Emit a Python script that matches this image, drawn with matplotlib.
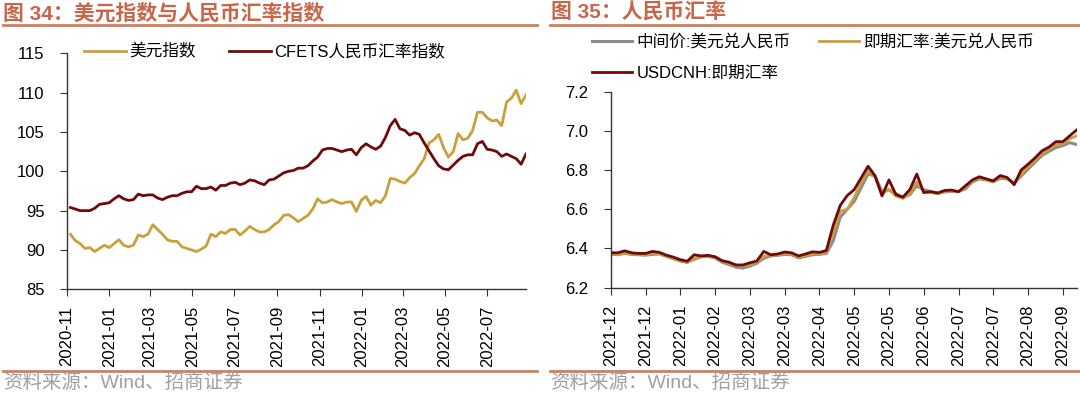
import matplotlib
matplotlib.use("Agg")
import matplotlib.pyplot as plt
import matplotlib.dates as mdates
import numpy as np
import pandas as pd

plt.rcParams['font.family'] = ['Liberation Sans', 'Noto Sans CJK SC', 'DejaVu Sans']

# ---- data: left panel (weekly) ----
left_dates = pd.date_range('2020-11-06', periods=95, freq='7D')
dxy = [92.0, 91.2, 90.8, 90.2, 90.3, 89.8, 90.2, 90.6, 90.3, 90.8,
       91.3, 90.6, 90.4, 90.6, 91.9, 91.7, 92.0, 93.2, 92.6, 92.0,
       91.3, 91.1, 91.1, 90.4, 90.2, 90.0, 89.8, 90.1, 90.5, 92.0,
       91.7, 92.3, 92.1, 92.6, 92.6, 91.9, 92.4, 93.0, 92.6, 92.3,
       92.3, 92.6, 93.2, 93.6, 94.4, 94.5, 94.1, 93.6, 94.0, 94.4,
       95.2, 96.5, 96.0, 96.1, 96.4, 96.1, 95.9, 96.1, 96.1, 94.9,
       96.3, 96.8, 95.7, 96.3, 96.0, 96.9, 99.1, 99.0, 98.7, 98.5,
       99.2, 99.7, 100.7, 101.6, 103.6, 104.0, 104.7, 103.0, 101.8, 102.5,
       104.8, 104.0, 104.2, 105.2, 107.5, 107.5, 106.8, 106.4, 106.5, 105.8,
       108.8, 109.3, 110.3, 108.6, 109.7]
cfets = [95.4, 95.2, 95.0, 95.0, 95.0, 95.3, 95.8, 95.9, 96.0, 96.5,
         96.9, 96.5, 96.3, 96.4, 97.1, 96.9, 97.0, 97.0, 96.6, 96.4,
         96.7, 96.9, 96.9, 97.2, 97.4, 97.4, 98.1, 97.8, 97.8, 98.0,
         97.6, 98.2, 98.2, 98.5, 98.6, 98.3, 98.5, 98.9, 98.8, 98.5,
         98.3, 98.9, 99.0, 99.4, 99.8, 100.0, 100.1, 100.4, 100.4, 100.7,
         101.3, 101.8, 102.7, 102.9, 102.9, 102.7, 102.5, 102.7, 102.8, 102.1,
         103.0, 103.5, 103.1, 102.8, 103.2, 104.3, 105.8, 106.6, 105.4, 105.2,
         104.6, 104.9, 104.7, 103.6, 102.6, 101.6, 100.7, 100.3, 100.2, 100.8,
         101.4, 101.9, 102.1, 102.1, 103.5, 103.8, 102.8, 102.7, 102.5, 101.9,
         102.2, 101.9, 101.6, 100.9, 102.2]

# ---- data: right panel (every 3rd trading day, index axis) ----
right_idx = np.arange(0, 202, 3)
cny_mid = [6.372, 6.368, 6.375, 6.370, 6.368, 6.366, 6.370, 6.372, 6.360, 6.348,
           6.336, 6.330, 6.345, 6.358, 6.360, 6.352, 6.330, 6.318, 6.305, 6.300,
           6.310, 6.325, 6.350, 6.362, 6.365, 6.370, 6.368, 6.352, 6.360, 6.368,
           6.370, 6.375, 6.440, 6.560, 6.600, 6.640, 6.710, 6.780, 6.770, 6.690,
           6.700, 6.680, 6.660, 6.675, 6.720, 6.700, 6.690, 6.682, 6.688, 6.692,
           6.690, 6.705, 6.740, 6.755, 6.750, 6.740, 6.758, 6.755, 6.735, 6.770,
           6.805, 6.840, 6.875, 6.895, 6.915, 6.925, 6.940, 6.930]
cny_spot = [6.372, 6.370, 6.378, 6.372, 6.370, 6.368, 6.375, 6.374, 6.362, 6.350,
            6.338, 6.328, 6.350, 6.360, 6.362, 6.355, 6.335, 6.325, 6.315, 6.312,
            6.318, 6.330, 6.360, 6.365, 6.368, 6.375, 6.372, 6.355, 6.365, 6.372,
            6.372, 6.380, 6.480, 6.590, 6.600, 6.660, 6.735, 6.800, 6.765, 6.680,
            6.700, 6.668, 6.655, 6.680, 6.740, 6.690, 6.685, 6.680, 6.690, 6.695,
            6.688, 6.712, 6.745, 6.760, 6.750, 6.742, 6.765, 6.758, 6.730, 6.780,
            6.815, 6.850, 6.885, 6.905, 6.930, 6.935, 6.960, 6.975]
usdcnh = [6.378, 6.378, 6.388, 6.378, 6.375, 6.375, 6.385, 6.380, 6.366, 6.356,
          6.343, 6.335, 6.368, 6.362, 6.365, 6.358, 6.338, 6.330, 6.316, 6.316,
          6.327, 6.336, 6.385, 6.368, 6.372, 6.382, 6.378, 6.362, 6.372, 6.383,
          6.380, 6.390, 6.520, 6.620, 6.670, 6.700, 6.760, 6.820, 6.770, 6.668,
          6.750, 6.675, 6.662, 6.700, 6.780, 6.685, 6.690, 6.683, 6.696, 6.698,
          6.690, 6.720, 6.750, 6.766, 6.755, 6.745, 6.772, 6.762, 6.725, 6.800,
          6.830, 6.862, 6.898, 6.917, 6.945, 6.945, 6.975, 7.005]
right_tick_labels = ['2021-12', '2021-12', '2022-01', '2022-02', '2022-03', '2022-03',
                     '2022-04', '2022-05', '2022-05', '2022-06', '2022-07', '2022-07',
                     '2022-08', '2022-09']

GOLD = '#C9A03C'
DARKRED = '#6E0A0A'
GRAY = '#8C8C8C'
TITLE_C = '#C8664A'
LINE_C = '#D07E5E'

fig = plt.figure(figsize=(10.8, 3.96), dpi=100)

# titles and separator lines
fig.text(0.003, 0.967, '图 34：美元指数与人民币汇率指数', fontsize=15, fontweight='bold',
         color=TITLE_C, va='center', ha='left')
fig.text(0.51, 0.967, '图 35：人民币汇率', fontsize=15, fontweight='bold',
         color=TITLE_C, va='center', ha='left')
fig.add_artist(plt.Line2D([0.003, 0.497], [0.937, 0.937], color=LINE_C, lw=2))
fig.add_artist(plt.Line2D([0.509, 1.0], [0.937, 0.937], color=LINE_C, lw=2))
fig.add_artist(plt.Line2D([0.003, 0.497], [0.063, 0.063], color=LINE_C, lw=2))
fig.add_artist(plt.Line2D([0.509, 1.0], [0.063, 0.063], color=LINE_C, lw=2))
fig.text(0.003, 0.033, '资料来源：Wind、招商证券', fontsize=14, color='#A0A0A0',
         va='center', ha='left')
fig.text(0.509, 0.033, '资料来源：Wind、招商证券', fontsize=14, color='#A0A0A0',
         va='center', ha='left')

# ---- left chart ----
ax1 = fig.add_axes([0.062, 0.2694, 0.425, 0.596])
ax1.plot(left_dates, dxy, color=GOLD, lw=2.0, label='美元指数')
ax1.plot(left_dates, cfets, color=DARKRED, lw=2.0, label='CFETS人民币汇率指数')
ax1.set_ylim(85, 115)
ax1.set_yticks([85, 90, 95, 100, 105, 110, 115])
ax1.set_xlim(pd.Timestamp('2020-11-01'), pd.Timestamp('2022-08-26'))
ax1.xaxis.set_major_locator(mdates.MonthLocator(bymonth=[1, 3, 5, 7, 9, 11]))
ax1.xaxis.set_major_formatter(mdates.DateFormatter('%Y-%m'))
ax1.legend(loc='upper left', bbox_to_anchor=(0.078, 0.89), bbox_transform=fig.transFigure,
           ncol=2, frameon=False, fontsize=12, handlelength=2.5, handletextpad=0.2,
           columnspacing=2.0, borderpad=0, borderaxespad=0)

# ---- right chart ----
ax2 = fig.add_axes([0.5655, 0.2735, 0.4315, 0.495])
l_mid, = ax2.plot(right_idx, cny_mid, color=GRAY, lw=2.2, label='中间价:美元兑人民币')
l_spot, = ax2.plot(right_idx, cny_spot, color=GOLD, lw=2.0, label='即期汇率:美元兑人民币')
l_cnh, = ax2.plot(right_idx, usdcnh, color=DARKRED, lw=2.0, label='USDCNH:即期汇率')
ax2.set_ylim(6.2, 7.2)
ax2.set_yticks([6.2, 6.4, 6.6, 6.8, 7.0, 7.2])
ax2.yaxis.set_major_formatter(matplotlib.ticker.FormatStrFormatter('%.1f'))
ax2.set_xlim(0, 201)
ax2.set_xticks(np.arange(len(right_tick_labels)) * 15)
ax2.set_xticklabels(right_tick_labels)
ax2.legend(handles=[l_mid, l_cnh, l_spot], loc='upper left', bbox_to_anchor=(0.548, 0.915),
           bbox_transform=fig.transFigure, ncol=2, frameon=False, fontsize=12,
           handlelength=2.4, handletextpad=0.3, columnspacing=1.7, labelspacing=0.95,
           borderpad=0, borderaxespad=0)

for ax in (ax1, ax2):
    for s in ('top', 'right'):
        ax.spines[s].set_visible(False)
    for s in ('left', 'bottom'):
        ax.spines[s].set_color('#333333')
        ax.spines[s].set_linewidth(1.0)
    ax.tick_params(axis='y', direction='out', length=5, pad=11, labelsize=12, colors='#333333',
                   labelcolor='black')
    ax.tick_params(axis='x', direction='out', length=5, pad=7, labelsize=12, colors='#333333',
                   labelcolor='black', labelrotation=90)

fig.savefig('out.png', dpi=100)
